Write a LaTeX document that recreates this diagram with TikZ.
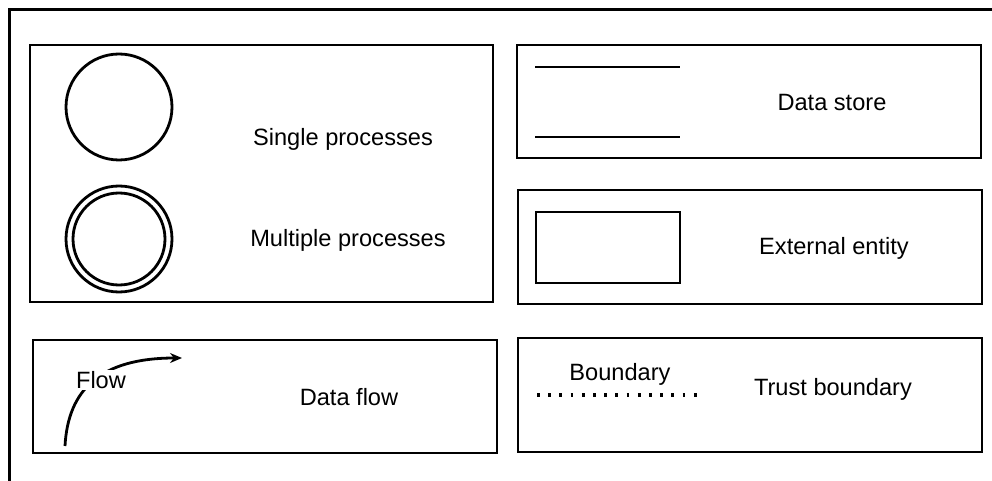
\documentclass[tikz,border=0pt]{standalone}
\usepackage{fontspec}
\setmainfont{Liberation Sans}
\usetikzlibrary{arrows.meta}

\begin{document}
\begin{tikzpicture}[x=0.5pt, y=-0.5pt, font=\fontsize{11.8}{14}\selectfont]
  \useasboundingbox (0,0) rectangle (992,481);
  \fill[white] (0,0) rectangle (992,481);
  % frame, only top and left
  \draw[line width=1.5pt] (9,481) -- (9,10) -- (992,10);
  % the five boxes
  \draw[line width=1.4pt] (30,45) rectangle (493,302);
  \draw[line width=1.4pt] (517,45) rectangle (981,158);
  \draw[line width=1.4pt] (518,190) rectangle (982,304);
  \draw[line width=1.4pt] (33,340) rectangle (497,453);
  \draw[line width=1.4pt] (518,338) rectangle (982,452);
  % processes
  \node[circle, draw, line width=1.4pt, minimum size=53pt, inner sep=0pt] (single) at (119,107) {};
  \node[circle, draw, line width=1.4pt, minimum size=53pt, inner sep=0pt] (multi) at (119,239) {};
  \node[circle, draw, line width=1.4pt, minimum size=46pt, inner sep=0pt] (multiin) at (119,239) {};
  \node (singletxt) at (343,139) {Single processes};
  \node (multitxt) at (348,240) {Multiple processes};
  % data store
  \coordinate (storeA) at (535,67);
  \coordinate (storeB) at (680,67);
  \coordinate (storeC) at (535,137);
  \coordinate (storeD) at (680,137);
  \draw[line width=1.4pt] (storeA) -- (storeB);
  \draw[line width=1.4pt] (storeC) -- (storeD);
  \node (storetxt) at (832,102) {Data store};
  % external entity
  \node[rectangle, draw, line width=1.4pt, minimum width=72pt, minimum height=35.5pt] (entity) at (608,247.5) {};
  \node (entitytxt) at (834,248) {External entity};
  % data flow
  \coordinate (flowA) at (65,446);
  \coordinate (flowB) at (182,358);
  \draw[line width=1.4pt, -{Stealth[length=6pt, width=5pt]}] (flowA) .. controls (68,390) and (100,358) .. (flowB);
  \node[fill=white, inner sep=0.5pt] (flowtxt) at (101,380) {Flow};
  \node (flowlbl) at (349,397) {Data flow};
  % trust boundary
  \coordinate (bndA) at (537,395);
  \coordinate (bndB) at (697,395);
  \draw[line width=1.6pt, dash pattern=on 1.4pt off 4.2pt] (bndA) -- (bndB);
  \node (bndtxt) at (620,374) {Boundary};
  \node (trusttxt) at (833,389) {Trust boundary};
\end{tikzpicture}
\end{document}
